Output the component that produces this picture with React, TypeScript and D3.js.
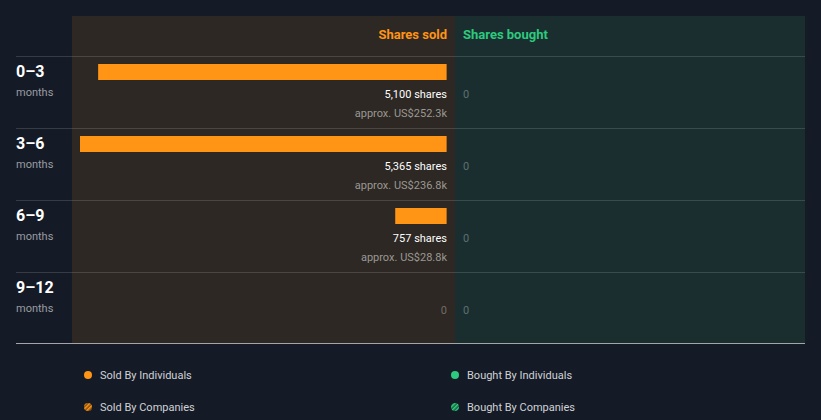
import React from "react";
import * as d3 from "d3";

const periods = ["0–3", "3–6", "6–9", "9–12"];
const soldShares = [5100, 5365, 757, 0];
const soldValue = ["US$252.3k", "US$236.8k", "US$28.8k", ""];
const boughtShares = [0, 0, 0, 0];
const legendItems = [
  { label: "Sold By Individuals", kind: "sold", hatch: false },
  { label: "Bought By Individuals", kind: "bought", hatch: false },
  { label: "Sold By Companies", kind: "sold", hatch: true },
  { label: "Bought By Companies", kind: "bought", hatch: true },
];

const W = 821, H = 420;
const BG = "#151b26";
const ORANGE = "#ff9415";
const GREEN = "#2dc97e";
const FONT = "Roboto, 'Open Sans', sans-serif";

export default function App() {
  const panelTop = 16, panelBottom = 343;
  const soldL = 72, mid = 455, boughtR = 805;
  const barRight = 447;
  const x = d3.scaleLinear().domain([0, d3.max(soldShares) as number]).range([0, 367]);
  const y = d3.scaleBand().domain(periods).range([56, 344]).paddingInner(0).paddingOuter(0);
  const fmt = d3.format(",");

  return (
    <svg width={W} height={H} style={{ position: "absolute", left: 0, top: 0, display: "block", fontFamily: FONT }}>
      <defs>
        <pattern id="hatchO" patternUnits="userSpaceOnUse" width="3" height="3" patternTransform="rotate(45)">
          <rect width="3" height="3" fill="#7a4a10" />
          <rect width="1.6" height="3" fill={ORANGE} />
        </pattern>
        <pattern id="hatchG" patternUnits="userSpaceOnUse" width="3" height="3" patternTransform="rotate(45)">
          <rect width="3" height="3" fill="#175c3d" />
          <rect width="1.6" height="3" fill={GREEN} />
        </pattern>
      </defs>
      <rect width={W} height={H} fill={BG} />
      <rect x={soldL} y={panelTop} width={mid - soldL} height={panelBottom - panelTop} fill="#2d2823" />
      <rect x={mid} y={panelTop} width={boughtR - mid} height={panelBottom - panelTop} fill="#1a2e30" />
      <text x={barRight} y={39} textAnchor="end" fill={ORANGE} fontSize={13} fontWeight={700}>Shares sold</text>
      <text x={463} y={39} fill={GREEN} fontSize={13} fontWeight={700}>Shares bought</text>
      {periods.map((p, i) => {
        const y0 = y(p) as number;
        const w = x(soldShares[i]);
        return (
          <g key={p}>
            <line x1={16} x2={boughtR} y1={y0 + 0.5} y2={y0 + 0.5} stroke="#ffffff" strokeOpacity={0.14} />
            <text x={16} y={y0 + 21} fill="#ffffff" fontSize={16} fontWeight={700}>{p}</text>
            <text x={16} y={y0 + 40} fill="#9a9ca1" fontSize={11}>months</text>
            {soldShares[i] > 0 ? (
              <g>
                <rect x={barRight - w} y={y0 + 8} width={w} height={16} fill={ORANGE} />
                <rect x={barRight - 1} y={y0 + 8} width={1} height={16} fill="#b8680e" />
                <text x={barRight} y={y0 + 42} textAnchor="end" fill="#ffffff" fontSize={11}>{fmt(soldShares[i])} shares</text>
                <text x={barRight} y={y0 + 61} textAnchor="end" fill="#9a9893" fontSize={11}>approx. {soldValue[i]}</text>
              </g>
            ) : (
              <text x={barRight} y={y0 + 42} textAnchor="end" fill="#6f6c68" fontSize={11}>0</text>
            )}
            <text x={463} y={y0 + 42} fill="#5f6e70" fontSize={11}>{fmt(boughtShares[i])}</text>
          </g>
        );
      })}
      <line x1={16} x2={boughtR} y1={343.5} y2={343.5} stroke="#c8c8c8" strokeOpacity={0.8} />
      {legendItems.map((it, i) => {
        const cx = i % 2 === 0 ? 88 : 455;
        const cy = i < 2 ? 375 : 407;
        const col = it.kind === "sold" ? ORANGE : GREEN;
        return (
          <g key={it.label}>
            {it.hatch ? (
              <circle cx={cx} cy={cy} r={4} fill={it.kind === "sold" ? "url(#hatchO)" : "url(#hatchG)"} />
            ) : (
              <circle cx={cx} cy={cy} r={4} fill={col} />
            )}
            <text x={cx + 12} y={cy + 4} fill="#d0d2d6" fontSize={11}>{it.label}</text>
          </g>
        );
      })}
    </svg>
  );
}
